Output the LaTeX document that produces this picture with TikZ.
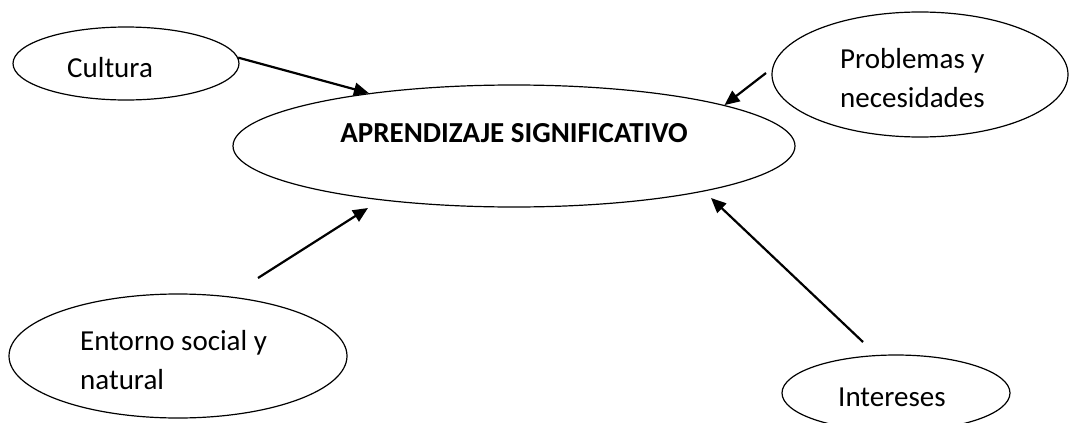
\documentclass[tikz,border=0pt]{standalone}
\usepackage{fontspec}
\setmainfont{Carlito}
\usetikzlibrary{arrows.meta,shapes.geometric}
\tikzset{
  bubble/.style={draw, ellipse, line width=1.2pt, inner sep=0pt},
  word/.style={anchor=base west, inner sep=0pt, align=left,
    font=\fontsize{29}{38.5}\selectfont},
  pointer/.style={line width=2.2pt,
    -{Triangle[length=15pt,width=13pt]}}
}

\begin{document}
\begin{tikzpicture}[x=1pt,y=-1pt]
                \useasboundingbox (0,0) rectangle (1071,423);

                % ellipses
                \node[bubble, minimum width=562pt, minimum height=122pt] (main) at (514,146) {};
                \node[bubble, minimum width=226pt, minimum height=73pt] (cultura) at (126,63.5) {};
                \node[bubble, minimum width=296pt, minimum height=125pt] (problemas) at (920,74.5) {};
                \node[bubble, minimum width=338pt, minimum height=124pt] (entorno) at (178,356) {};
                \node[bubble, minimum width=228pt, minimum height=76pt] (intereses) at (896,393) {};

                % texts (base = last line)
                \node[word, anchor=base, font=\fontsize{29}{38.5}\selectfont\bfseries] (tmain) at (514,142) {APRENDIZAJE SIGNIFICATIVO};
                \node[word] (tcultura) at (67,77) {Cultura};
                \node[word] (tproblemas) at (840,107) {Problemas y\\necesidades};
                \node[word] (tentorno) at (80,389) {Entorno social y\\natural};
                \node[word] (tintereses) at (838,406) {Intereses};

                % free ends of the arrows
                \coordinate (p1) at (766,73);
                \coordinate (e1) at (258,278);
                \coordinate (e2) at (368,208);
                \coordinate (i1) at (863,342);
                \coordinate (i2) at (711,198);

                % arrows
                \draw[pointer] (cultura.3) -- (main.160);
                \draw[pointer] (p1) -- (main.11);
                \draw[pointer] (e1) -- (e2);
                \draw[pointer] (i1) -- (i2);
            \end{tikzpicture}
\end{document}
